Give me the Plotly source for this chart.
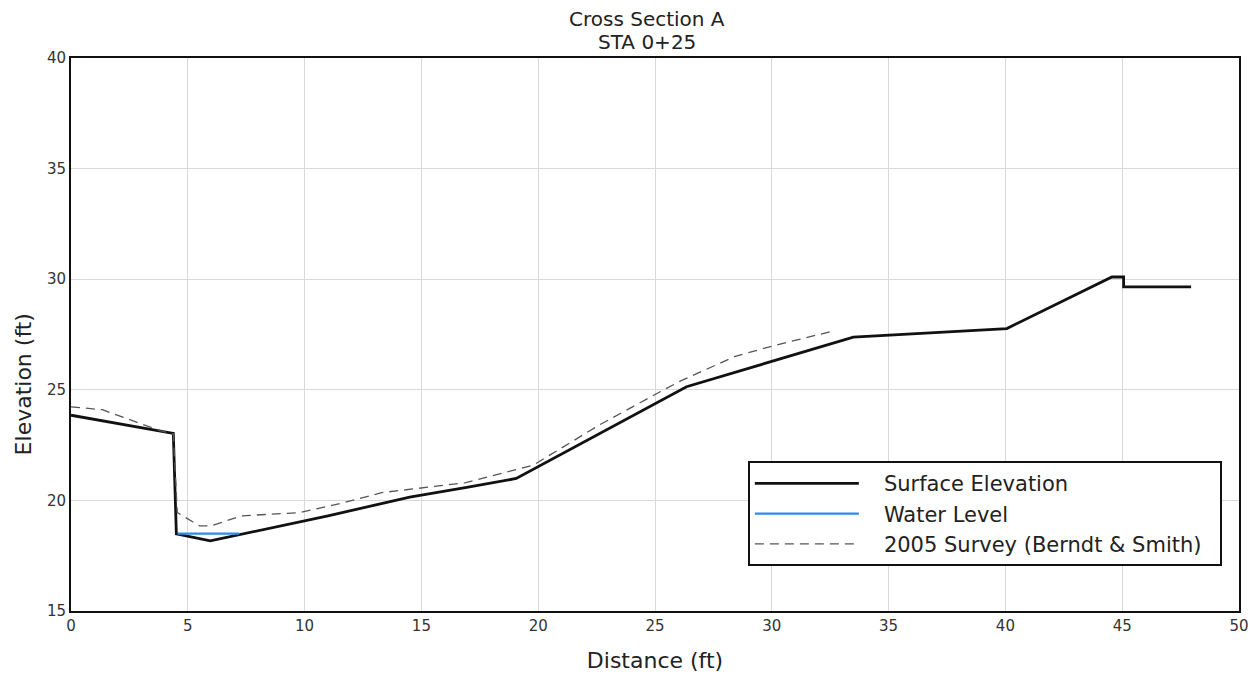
import plotly.graph_objects as go

# Surface elevation profile (ft)
surface_x = [0, 4.38, 4.51, 5.96, 11.0, 14.5, 17.0, 19.06, 26.35, 33.49, 40.06, 44.56, 45.06, 45.06, 47.95]
surface_y = [23.85, 23.03, 18.49, 18.17, 19.3, 20.15, 20.6, 20.99, 25.14, 27.38, 27.77, 30.1, 30.1, 29.65, 29.65]

# Water level
water_x = [4.56, 7.2]
water_y = [18.5, 18.5]

# 2005 Survey (Berndt & Smith)
survey_x = [0, 1.34, 3.84, 4.38, 4.55, 5.5, 6.0, 7.3, 9.8, 11.5, 13.3, 14.5, 16.9, 19.8, 22.6, 25.2, 26.1, 28.4, 30.1, 32.6]
survey_y = [24.23, 24.1, 23.14, 23.0, 19.45, 18.85, 18.85, 19.3, 19.45, 19.85, 20.35, 20.5, 20.8, 21.6, 23.4, 24.9, 25.4, 26.5, 27.0, 27.65]

x_ticks = [0, 5, 10, 15, 20, 25, 30, 35, 40, 45, 50]
y_ticks = [15, 20, 25, 30, 35, 40]

title_lines = ["Cross Section A", "STA 0+25"]

FONT = "DejaVu Sans"
SP = "&nbsp;&nbsp;&nbsp;"

fig = go.Figure()
fig.add_trace(go.Scatter(x=surface_x, y=surface_y, mode="lines", name=SP + "Surface Elevation",
                         line=dict(color="#111111", width=2.8)))
fig.add_trace(go.Scatter(x=water_x, y=water_y, mode="lines", name=SP + "Water Level",
                         line=dict(color="#2B8CEB", width=2.2)))
fig.add_trace(go.Scatter(x=survey_x, y=survey_y, mode="lines",
                         name=SP + "2005 Survey (Berndt &amp; Smith)&nbsp;&nbsp;",
                         line=dict(color="#555555", width=1.3, dash="9px,6px")))

annotations = [
    dict(text=title_lines[0], xref="paper", yref="paper", x=0.4935, y=1.0705,
         xanchor="center", yanchor="middle", showarrow=False,
         font=dict(family=FONT, size=20, color="#222222")),
    dict(text=title_lines[1], xref="paper", yref="paper", x=0.4935, y=1.0298,
         xanchor="center", yanchor="middle", showarrow=False,
         font=dict(family=FONT, size=20, color="#222222")),
    dict(text="Elevation (ft)", textangle=-90, xref="paper", yref="paper",
         x=-0.041, y=0.41, xanchor="center", yanchor="middle", showarrow=False,
         font=dict(family=FONT, size=22, color="#222222")),
]

fig.update_layout(
    width=1260, height=676,
    margin=dict(l=63, r=29, t=50, b=73),
    paper_bgcolor="white", plot_bgcolor="white",
    font=dict(family=FONT, color="#222222"),
    xaxis=dict(range=[0, 50], tickvals=x_ticks, ticktext=[str(v) for v in x_ticks],
               showgrid=True, gridcolor="#d9d9d9", gridwidth=1,
               showline=True, linecolor="#111111", linewidth=2, mirror=True,
               ticks="", zeroline=False,
               tickfont=dict(family=FONT, size=15, color="#333333"),
               title=dict(text="Distance (ft)", font=dict(family=FONT, size=22, color="#222222"),
                          standoff=19)),
    yaxis=dict(range=[15, 40], tickvals=y_ticks, ticktext=[str(v) for v in y_ticks],
               showgrid=True, gridcolor="#d9d9d9", gridwidth=1,
               showline=True, linecolor="#111111", linewidth=2, mirror=True,
               ticks="", zeroline=False,
               tickfont=dict(family=FONT, size=15, color="#333333")),
    legend=dict(x=0.5795, y=0.271, xanchor="left", yanchor="top",
                bgcolor="white", bordercolor="#111111", borderwidth=2,
                font=dict(family=FONT, size=21, color="#222222"),
                itemwidth=104, tracegroupgap=0),
    showlegend=True,
    annotations=annotations,
)

fig.write_html("out.html")
